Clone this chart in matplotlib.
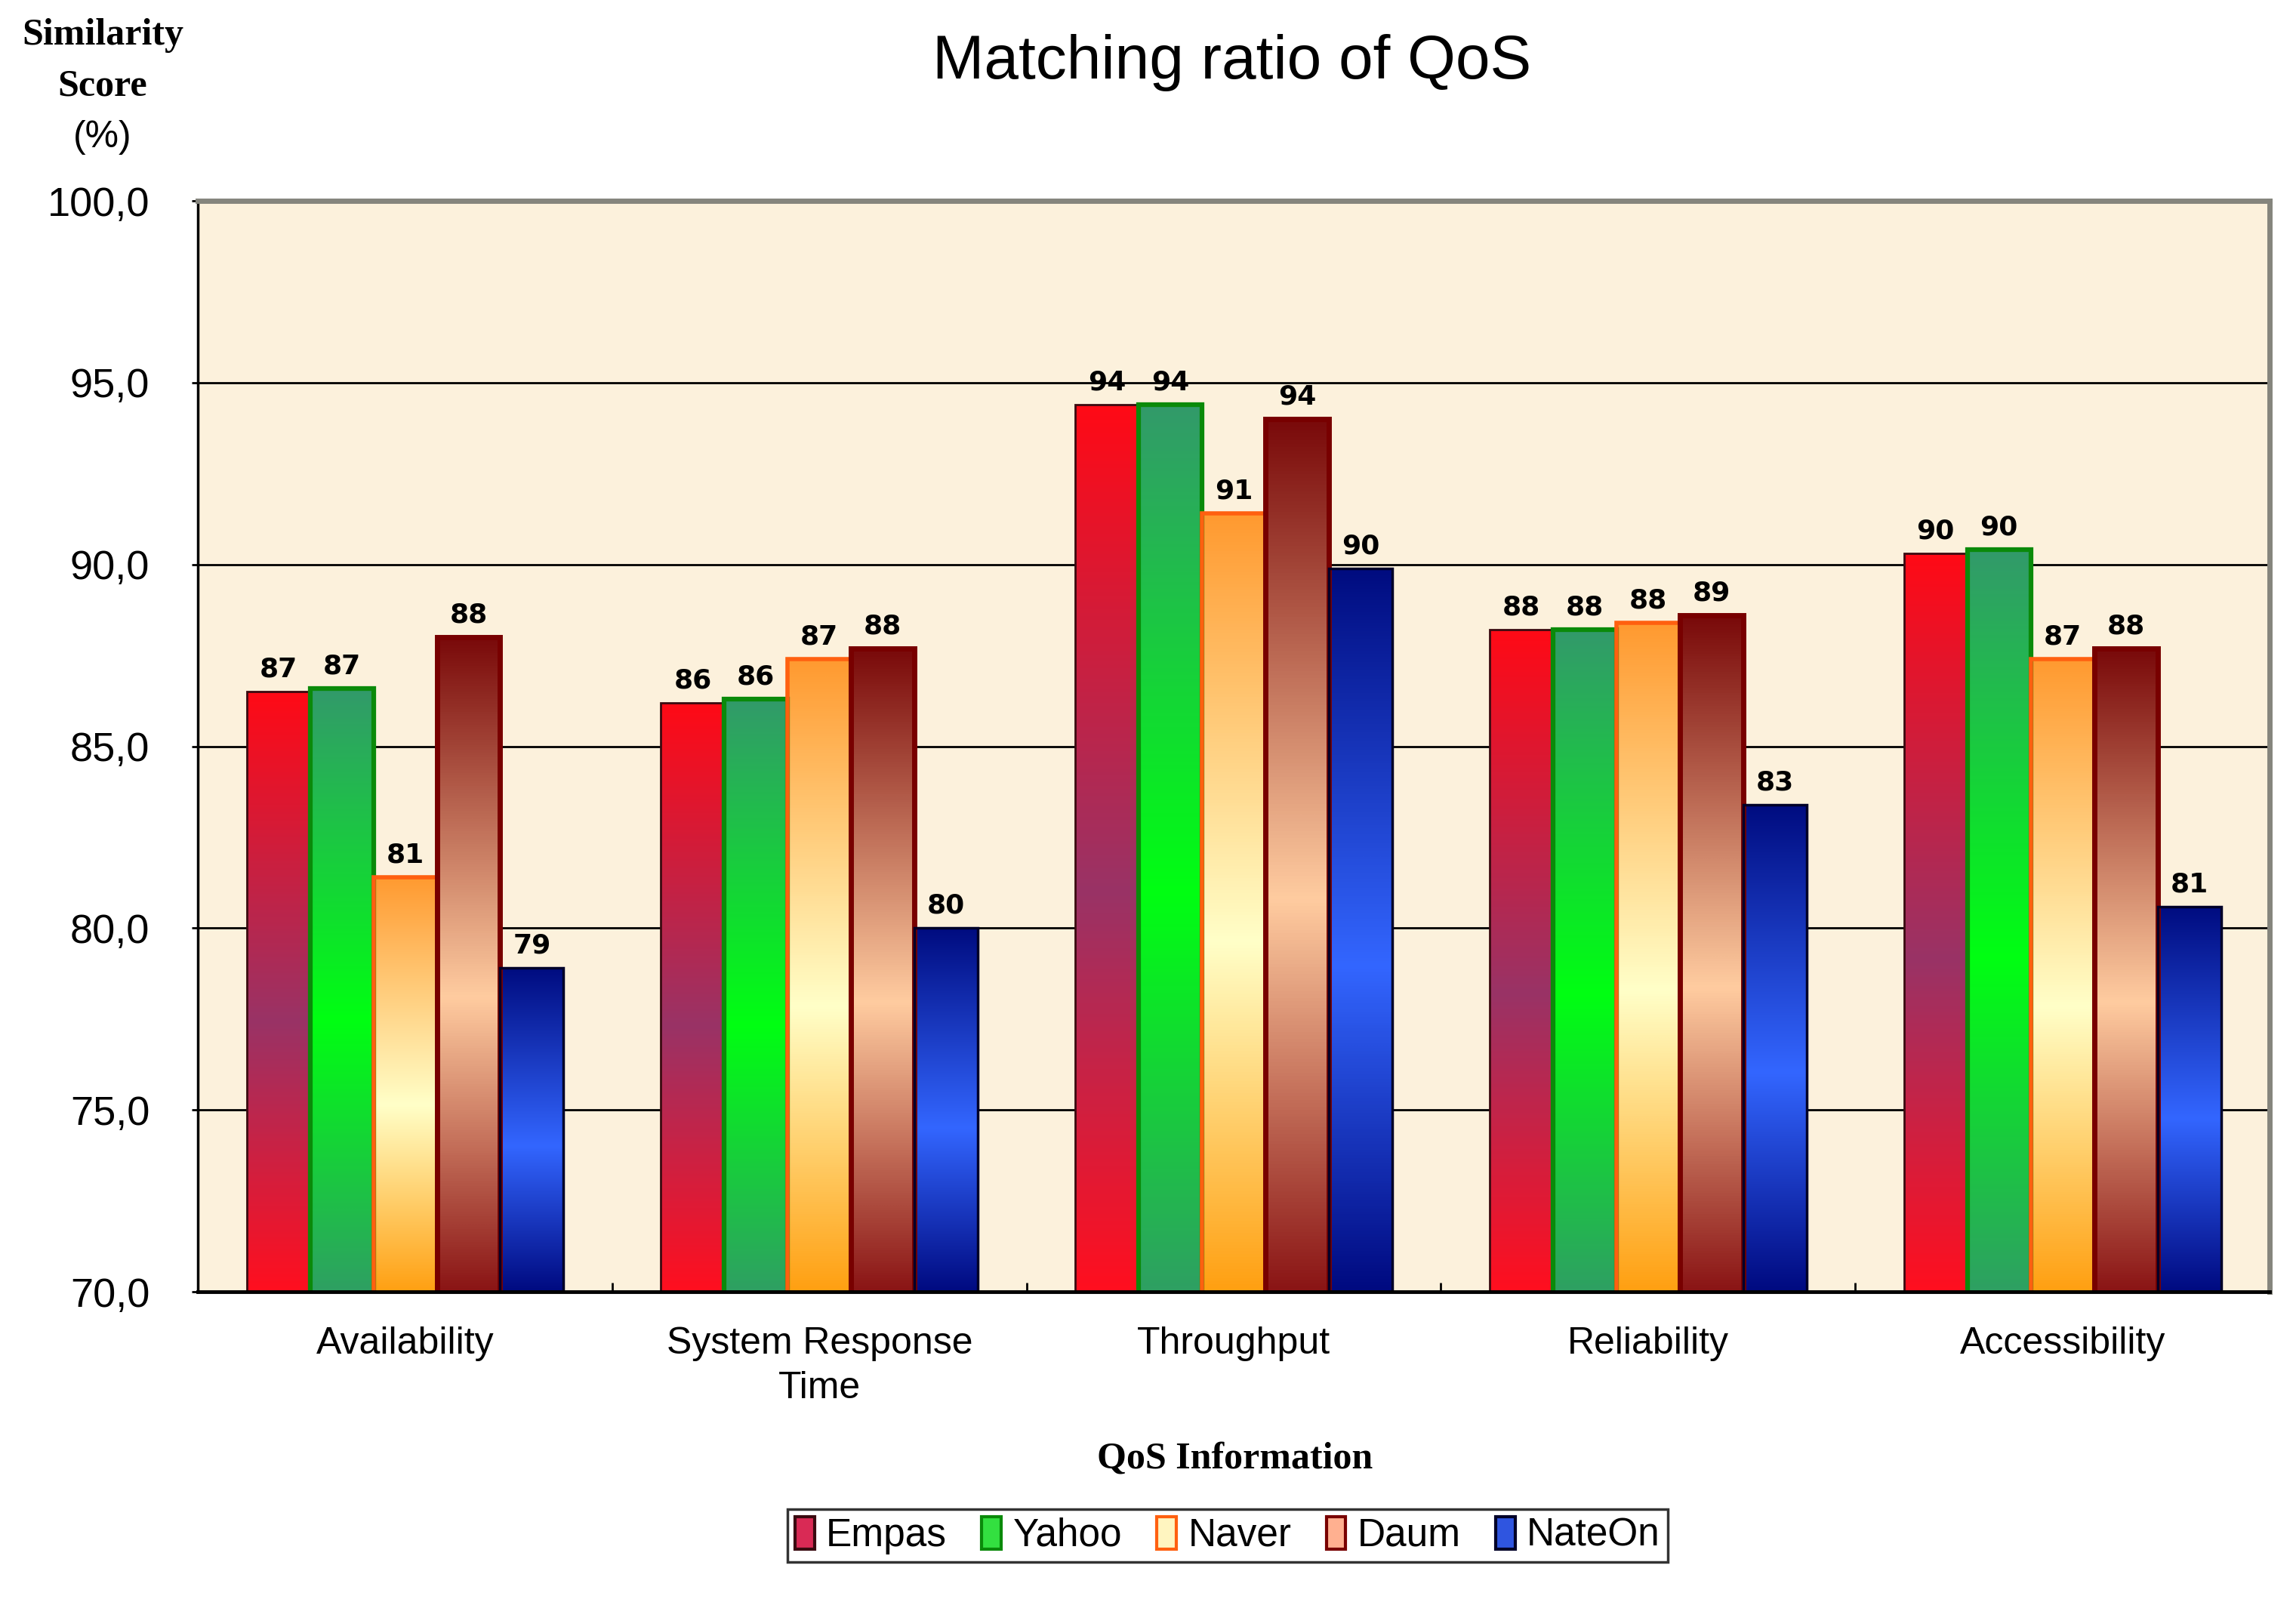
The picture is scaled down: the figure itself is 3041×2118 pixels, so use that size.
import matplotlib.pyplot as plt
import numpy as np
from matplotlib.colors import LinearSegmentedColormap
from matplotlib.patches import Patch

# Values
categories = ["Availability", "System Response\nTime", "Throughput", "Reliability", "Accessibility"]
series = ["Empas", "Yahoo", "Naver", "Daum", "NateOn"]
empas = [86.5, 86.2, 94.4, 88.2, 90.3]
yahoo = [86.6, 86.3, 94.4, 88.2, 90.4]
naver = [81.4, 87.4, 91.4, 88.4, 87.4]
daum = [88.0, 87.7, 94.0, 88.6, 87.7]
nateon = [78.9, 80.0, 89.9, 83.4, 80.6]
values = [empas, yahoo, naver, daum, nateon]
yticks = [70, 75, 80, 85, 90, 95, 100]

# gradient stops (bottom, middle, top), border colour, border width, legend face
styles = [
    (["#FF0F1F", "#993366", "#FF0A16"], "#3A0A10", 2.0, "#D92A55"),
    (["#2EA062", "#00FF12", "#329A6A"], "#0A8A0A", 4.5, "#33E040"),
    (["#FFA012", "#FFFFC8", "#FF9A30"], "#FF6010", 4.0, "#FFF5C0"),
    (["#8A1515", "#FFCCA0", "#7A0A0A"], "#780000", 5.0, "#FFB090"),
    (["#000A80", "#3366FF", "#000C80"], "#000028", 2.5, "#2F55E0"),
]

plt.rcParams['font.family'] = 'Liberation Sans'

fig = plt.figure(figsize=(30.41, 21.18), dpi=100)
ax = fig.add_axes([0.0862, 0.1921, 0.9023, 0.6823])
ax.set_facecolor('#FCF1DC')

x = np.arange(len(categories))
width = 0.153
ymin, ymax = 70, 100
grad = np.linspace(0, 1, 256).reshape(-1, 1)

for i, name in enumerate(series):
    stops, edge, lw, _ = styles[i]
    cmap = LinearSegmentedColormap.from_list(name, list(zip([0, 0.45, 1], stops)))
    bars = ax.bar(x + (i - 2) * width, values[i], width, facecolor='none',
                  edgecolor=edge, linewidth=lw, zorder=3)
    for rect, v in zip(bars, values[i]):
        x0, w = rect.get_x(), rect.get_width()
        im = ax.imshow(grad, cmap=cmap, extent=[x0, x0 + w, ymin, rect.get_height()],
                       aspect='auto', origin='lower', zorder=2, interpolation='bilinear')
        im.set_clip_path(rect)
        ax.annotate(f"{int(v + 0.5)}", (x0 + w / 2, v), xytext=(0, 9),
                    textcoords='offset points', ha='center', va='bottom',
                    fontsize=26, fontweight='bold', family='DejaVu Sans')

ax.set_xlim(-0.5, len(categories) - 0.5)
ax.set_ylim(ymin, ymax)

ax.set_xticks(x, categories)
for lab in ax.get_xticklabels():
    lab.set_linespacing(1.35)
ax.set_xticks(x[:-1] + 0.5, minor=True)
ax.tick_params(axis='x', which='major', length=0, pad=33, labelsize=36)
ax.tick_params(axis='x', which='minor', direction='in', length=9, width=2, color='black')
ax.set_yticks(yticks, [f"{t:.1f}".replace('.', ',') for t in yticks])
ax.tick_params(axis='y', direction='out', length=6, width=2, pad=40, labelsize=39)

ax.yaxis.grid(True, color='black', linewidth=2)
ax.set_axisbelow(True)

for side in ['top', 'right']:
    ax.spines[side].set(color='#85857D', linewidth=5, zorder=4)
ax.spines['left'].set(color='black', linewidth=2.5, zorder=4)
ax.spines['bottom'].set(color='black', linewidth=3.5, zorder=4)

fig.text(0.5365, 0.961, "Matching ratio of QoS", ha='center', va='center', fontsize=59)
fig.text(0.0447, 0.978, "Similarity", ha='center', va='center', fontsize=36,
         fontweight='bold', family='Liberation Serif')
fig.text(0.0447, 0.946, "Score", ha='center', va='center', fontsize=36,
         fontweight='bold', family='Liberation Serif')
fig.text(0.0447, 0.914, "(%)", ha='center', va='center', fontsize=36)
fig.text(0.5377, 0.0878, "QoS Information", ha='center', va='center', fontsize=36,
         fontweight='bold', family='Liberation Serif')

handles = [Patch(facecolor=s[3], edgecolor=s[1], linewidth=3) for s in styles]
leg = fig.legend(handles, series, loc='center', bbox_to_anchor=(0.5347, 0.0397), ncol=5,
                 fontsize=37, frameon=True, fancybox=False, edgecolor='black',
                 handlelength=0.5, handleheight=0.9, handletextpad=0.3,
                 columnspacing=0.9, borderpad=0.2, borderaxespad=0.2)
leg.get_frame().set_linewidth(2.5)

fig.savefig("out.png", dpi=100, facecolor='white')
